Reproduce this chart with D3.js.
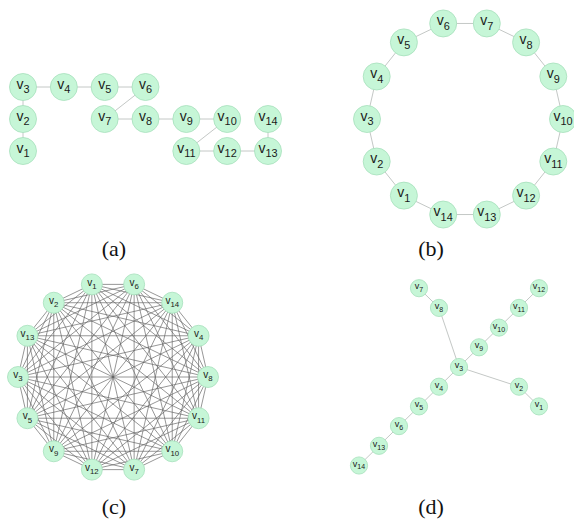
<!DOCTYPE html>
<html>
<head>
<meta charset="utf-8">
<script src="https://cdn.jsdelivr.net/npm/d3@7"></script>
<style>
  html, body { margin: 0; padding: 0; background: #fff; }
  svg { display: block; }
  .lbl { font-family: "Liberation Sans", Arial, Helvetica, sans-serif; }
  .cap { font-family: "Liberation Serif", "Times New Roman", Times, serif; }
</style>
</head>
<body>
<svg id="chart" width="574" height="521"></svg>
<script>
// ---- data -------------------------------------------------------------
// (a) grid-like layout: [vertex, column, row]
const gridNodes = [
  [1, 0, 2], [2, 0, 1], [3, 0, 0], [4, 1, 0], [5, 2, 0], [6, 3, 0],
  [7, 2, 1], [8, 3, 1], [9, 4, 1], [10, 5, 1], [14, 6, 1],
  [11, 4, 2], [12, 5, 2], [13, 6, 2]
];
const pathEdges = [
  [1, 2], [2, 3], [3, 4], [4, 5], [5, 6], [6, 7], [7, 8],
  [8, 9], [9, 10], [10, 11], [11, 12], [12, 13], [13, 14]
];
// (b) closes the path into a cycle
const cycleEdges = pathEdges.concat([[14, 1]]);

// (b) ring layout: vertex order counter-clockwise starting at angle 0
const ringOrder = [10, 9, 8, 7, 6, 5, 4, 3, 2, 1, 14, 13, 12, 11];

// (c) complete graph, vertex order clockwise starting at angle 0
const completeOrder = [8, 11, 10, 7, 12, 9, 5, 3, 13, 2, 1, 6, 14, 4];

// (d) tree layout: [vertex, x unit, y unit]
const treeNodes = [
  [7, -2, -4], [8, -1, -3], [12, 4, -4], [11, 3, -3], [10, 2, -2], [9, 1, -1],
  [3, 0, 0], [4, -1, 1], [5, -2, 2], [6, -3, 3], [13, -4, 4], [14, -5, 5],
  [2, 3, 1], [1, 4, 2]
];
const treeEdges = [
  [7, 8], [8, 3], [3, 9], [9, 10], [10, 11], [11, 12],
  [3, 4], [4, 5], [5, 6], [6, 13], [13, 14], [3, 2], [2, 1]
];

const captions = ["(a)", "(b)", "(c)", "(d)"];

// ---- drawing ----------------------------------------------------------
const svg = d3.select("#chart");
const NODE_FILL = "#c6f6d7";
const NODE_STROKE = "#a6e0bb";
const EDGE = "#c4c8c6";

function drawLabels(g, nodes, size) {
  const t = g.selectAll("text.lbl").data(nodes).join("text")
    .attr("class", "lbl")
    .attr("x", d => d.x)
    .attr("y", d => d.y + size * 0.12)
    .attr("text-anchor", "middle")
    .attr("font-size", size)
    .attr("fill", "#1a1a1a");
  t.append("tspan").text("v");
  t.append("tspan")
    .attr("font-size", size * 0.78)
    .attr("dy", size * 0.32)
    .text(d => d.id);
}

function drawGraph(g, nodes, edges, r, fontSize, edgeColor, edgeWidth) {
  const byId = new Map(nodes.map(n => [n.id, n]));
  g.append("g").selectAll("line").data(edges).join("line")
    .attr("x1", e => byId.get(e[0]).x).attr("y1", e => byId.get(e[0]).y)
    .attr("x2", e => byId.get(e[1]).x).attr("y2", e => byId.get(e[1]).y)
    .attr("stroke", edgeColor).attr("stroke-width", edgeWidth);
  const ng = g.append("g");
  ng.selectAll("circle").data(nodes).join("circle")
    .attr("cx", d => d.x).attr("cy", d => d.y).attr("r", r)
    .attr("fill", NODE_FILL).attr("stroke", NODE_STROKE).attr("stroke-width", 0.8);
  drawLabels(ng, nodes, fontSize);
}

// (a)
{
  const x = d3.scaleLinear().domain([0, 6]).range([23, 268]);
  const y = d3.scaleLinear().domain([0, 2]).range([87, 151]);
  const nodes = gridNodes.map(([id, c, r]) => ({ id, x: x(c), y: y(r) }));
  drawGraph(svg.append("g"), nodes, pathEdges, 13.5, 14, EDGE, 1);
}

// (b)
{
  const cx = 465, cy = 119, R = 98;
  const ang = d3.scaleLinear().domain([0, ringOrder.length]).range([0, 2 * Math.PI]);
  const nodes = ringOrder.map((id, i) => ({
    id, x: cx + R * Math.cos(ang(i)), y: cy - R * Math.sin(ang(i))
  }));
  drawGraph(svg.append("g"), nodes, cycleEdges, 13.5, 14, EDGE, 1);
}

// (c)
{
  const cx = 113, cy = 377, R = 95;
  const ang = d3.scaleLinear().domain([0, completeOrder.length]).range([0, 2 * Math.PI]);
  const nodes = completeOrder.map((id, i) => ({
    id, x: cx + R * Math.cos(ang(i)), y: cy + R * Math.sin(ang(i))
  }));
  const edges = d3.cross(completeOrder, completeOrder).filter(([a, b]) => a < b);
  drawGraph(svg.append("g"), nodes, edges, 10.5, 10, "#5e5e5e", 0.65);
}

// (d)
{
  const x = d3.scaleLinear().domain([0, 1]).range([459, 479]);
  const y = d3.scaleLinear().domain([0, 1]).range([367, 386.7]);
  const nodes = treeNodes.map(([id, u, v]) => ({ id, x: x(u), y: y(v) }));
  drawGraph(svg.append("g"), nodes, treeEdges, 8.6, 9, EDGE, 1);
}

// captions
svg.selectAll("text.cap").data(captions).join("text")
  .attr("class", "cap")
  .attr("x", (d, i) => i % 2 === 0 ? 114 : 431)
  .attr("y", (d, i) => i < 2 ? 256 : 514)
  .attr("text-anchor", "middle")
  .attr("font-size", 22)
  .attr("fill", "#111")
  .text(d => d);
</script>
</body>
</html>
